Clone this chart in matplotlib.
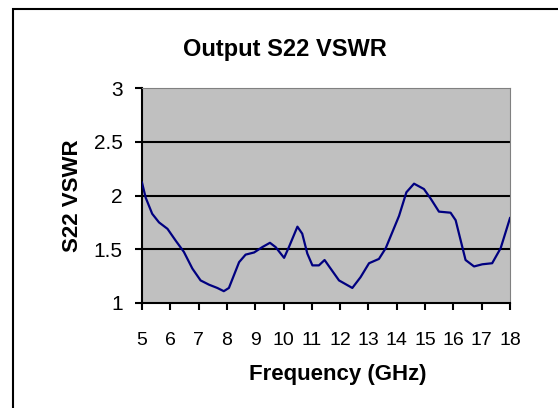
import matplotlib
matplotlib.use("Agg")
import matplotlib.pyplot as plt
from matplotlib.patches import Rectangle

plt.rcParams['font.family'] = ['Liberation Sans', 'DejaVu Sans']

freq_ghz = [5.0, 5.13, 5.36, 5.6, 5.9, 6.19, 6.48, 6.78, 7.07, 7.37, 7.66, 7.89, 8.07,
            8.25, 8.43, 8.66, 8.96, 9.25, 9.52, 9.72, 10.02, 10.19, 10.49, 10.66, 10.84,
            11.02, 11.25, 11.45, 11.61, 11.96, 12.43, 12.72, 13.02, 13.37, 13.61, 14.08,
            14.34, 14.61, 14.96, 15.2, 15.49, 15.9, 16.08, 16.43, 16.73, 17.02, 17.37,
            17.67, 18.0]
vswr = [2.12, 1.98, 1.83, 1.75, 1.69, 1.58, 1.475, 1.32, 1.21, 1.17, 1.14, 1.11, 1.14,
        1.26, 1.38, 1.45, 1.47, 1.52, 1.56, 1.52, 1.42, 1.52, 1.71, 1.645, 1.46,
        1.35, 1.35, 1.40, 1.34, 1.21, 1.14, 1.24, 1.37, 1.41, 1.51, 1.81,
        2.03, 2.11, 2.06, 1.97, 1.85, 1.84, 1.77, 1.40, 1.34, 1.36, 1.37,
        1.51, 1.79]
x_ticks = list(range(5, 19))
y_ticks = [1, 1.5, 2, 2.5, 3]
y_tick_labels = ['1', '1.5', '2', '2.5', '3']

W, H = 558, 408
fig = plt.figure(figsize=(W / 100, H / 100), dpi=100)
fig.patch.set_facecolor('white')

# outer chart frame (extends beyond right/bottom edge)
fig.add_artist(Rectangle((12.5 / W, -0.05), 1.2, (H - 8.5) / H + 0.05,
                         transform=fig.transFigure, fill=False,
                         edgecolor='black', linewidth=1.5))

l, r, t, b = 142, 510, 88, 303
ax = fig.add_axes([l / W, (H - b) / H, (r - l) / W, (b - t) / H])
ax.set_facecolor('#C0C0C0')
ax.plot(freq_ghz, vswr, color='#000080', linewidth=1.6, zorder=3,
        solid_joinstyle='round')

ax.set_xlim(5, 18)
ax.set_ylim(1, 3)
ax.set_xticks(x_ticks)
ax.set_xticklabels([str(v) for v in x_ticks])
ax.set_yticks(y_ticks)
ax.set_yticklabels(y_tick_labels)
for yv in y_ticks[1:-1]:
    ax.axhline(yv, color='black', linewidth=1.5, zorder=2)

for s in ['left', 'bottom']:
    ax.spines[s].set_color('black')
    ax.spines[s].set_linewidth(1.5)
for s in ['top', 'right']:
    ax.spines[s].set_color('#808080')
    ax.spines[s].set_linewidth(0.8)

ax.tick_params(axis='both', direction='out', length=5, width=1.5, color='black',
               labelcolor='black')
ax.tick_params(axis='x', pad=16, labelsize=14)
ax.tick_params(axis='y', pad=9, labelsize=15)

fig.text(285 / W, 1 - 56 / H, 'Output S22 VSWR', ha='center', va='baseline',
         fontsize=17, fontweight='bold')
fig.text(338 / W, 1 - 380 / H, 'Frequency (GHz)', ha='center', va='baseline',
         fontsize=16, fontweight='bold')
fig.text(72 / W, 1 - 196 / H, 'S22 VSWR', ha='center', va='center', rotation=90,
         fontsize=16, fontweight='bold')

fig.savefig('out.png', dpi=100)
